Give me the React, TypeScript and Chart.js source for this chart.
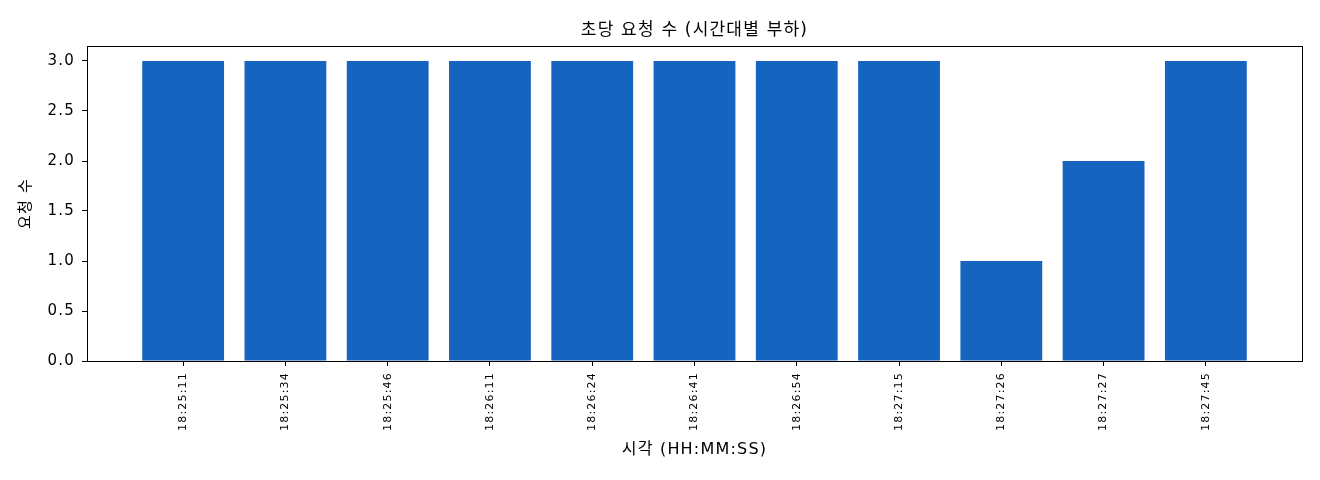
import { useEffect, useRef } from 'react';
import { Chart, registerables } from 'chart.js';

Chart.register(...registerables);

const timeLabels = [
  '18:25:11', '18:25:34', '18:25:46', '18:26:11', '18:26:24', '18:26:41',
  '18:26:54', '18:27:15', '18:27:26', '18:27:27', '18:27:45',
];
const requestCounts = [3, 3, 3, 3, 3, 3, 3, 3, 1, 2, 3];
const yTicks = [0, 0.5, 1, 1.5, 2, 2.5, 3];

const FONT = '"DejaVu Sans", "Noto Sans CJK KR", sans-serif';

// the reference font is set rather loose, so widen all text a little
const spacing = {
  id: 'spacing',
  beforeLayout(chart: Chart) {
    (chart.ctx as any).letterSpacing = '1.2px';
  },
  beforeDraw(chart: Chart) {
    (chart.ctx as any).letterSpacing = '1.2px';
  },
};

// draws the full box around the plot, like matplotlib's spines
const frame = {
  id: 'frame',
  afterDraw(chart: Chart) {
    const { ctx, chartArea: a } = chart;
    ctx.save();
    ctx.strokeStyle = '#000';
    ctx.lineWidth = 1;
    ctx.strokeRect(a.left + 0.5, a.top + 0.5, a.right - a.left, a.bottom - a.top);
    ctx.restore();
  },
};

export default function App() {
  const canvasRef = useRef<HTMLCanvasElement | null>(null);

  useEffect(() => {
    if (!canvasRef.current) return;
    const chart = new Chart(canvasRef.current, {
      type: 'bar',
      data: {
        datasets: [{
          label: '요청 수',
          data: requestCounts.map((v, i) => ({ x: i, y: v })),
          backgroundColor: '#1565C0',
          borderWidth: 0,
          barPercentage: 0.8,
          categoryPercentage: 1,
        }],
      },
      options: {
        responsive: false,
        animation: false,
        layout: { padding: { left: 0, right: 18, top: 0, bottom: 0 } },
        plugins: {
          legend: { display: false },
          tooltip: { enabled: false },
          title: {
            display: true,
            fullSize: false,
            text: '초당 요청 수 (시간대별 부하)',
            color: '#000',
            font: { family: FONT, size: 17, weight: 'normal' },
            padding: { top: 20, bottom: 5.6 },
          },
        },
        scales: {
          x: {
            type: 'linear',
            min: -0.94,
            max: 10.94,
            offset: false,
            afterBuildTicks: (axis: any) => {
              axis.ticks = timeLabels.map((_, i) => ({ value: i }));
            },
            afterFit: (axis: any) => { axis.height = 119; },
            ticks: {
              autoSkip: false,
              minRotation: 90,
              maxRotation: 90,
              color: '#000',
              padding: 6,
              font: { family: FONT, size: 11 },
              callback: (v: any) => timeLabels[Number(v)] ?? '',
            },
            grid: { offset: false, drawOnChartArea: false, drawTicks: true, tickLength: 5, color: '#000' },
            border: { display: true, color: '#000' },
            title: {
              display: true,
              text: '시각 (HH:MM:SS)',
              color: '#000',
              font: { family: FONT, size: 16 },
              padding: { top: 0, bottom: 21 },
            },
          },
          y: {
            min: 0,
            max: 3.15,
            afterBuildTicks: (axis: any) => {
              axis.ticks = yTicks.map(v => ({ value: v }));
            },
            afterFit: (axis: any) => { axis.width = 87; },
            ticks: {
              color: '#000',
              padding: 7,
              font: { family: FONT, size: 15 },
              callback: (v: any) => Number(v).toFixed(1),
            },
            grid: { drawOnChartArea: false, drawTicks: true, tickLength: 5, color: '#000' },
            border: { display: true, color: '#000' },
            title: {
              display: true,
              text: '요청 수',
              color: '#000',
              font: { family: FONT, size: 15 },
              padding: { top: 17, bottom: 0 },
            },
          },
        },
      },
      plugins: [spacing, frame],
    } as any);
    return () => chart.destroy();
  }, []);

  return (
    <div style={{ position: 'fixed', left: 0, top: 0, width: 1320, height: 480, background: '#fff' }}>
      <canvas ref={canvasRef} width={1320} height={480} style={{ width: 1320, height: 480 }} />
    </div>
  );
}
